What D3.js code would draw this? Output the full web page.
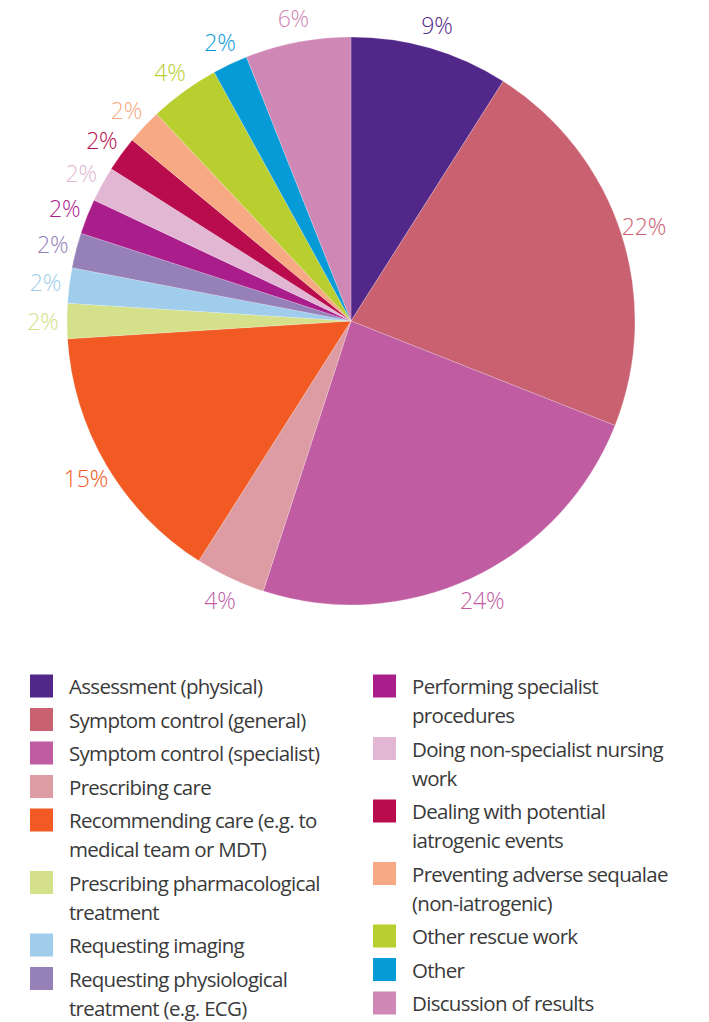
<!DOCTYPE html>
<html>
<head>
<meta charset="utf-8">
<script src="https://cdn.jsdelivr.net/npm/d3@7"></script>
<style>
  html, body { margin: 0; padding: 0; background: #ffffff; }
  svg { display: block; }
</style>
</head>
<body>
<svg id="chart" width="709" height="1022"></svg>
<script>
// Share of activity by category (percent), clockwise from 12 o'clock
const categories = [
  "Assessment (physical)",
  "Symptom control (general)",
  "Symptom control (specialist)",
  "Prescribing care",
  "Recommending care (e.g. to medical team or MDT)",
  "Prescribing pharmacological treatment",
  "Requesting imaging",
  "Requesting physiological treatment (e.g. ECG)",
  "Performing specialist procedures",
  "Doing non-specialist nursing work",
  "Dealing with potential iatrogenic events",
  "Preventing adverse sequalae (non-iatrogenic)",
  "Other rescue work",
  "Other",
  "Discussion of results"
];
const values = [9, 22, 24, 4, 15, 2, 2, 2, 2, 2, 2, 2, 4, 2, 6];
const colors = [
  "#52278a", "#c96170", "#bf5ca2", "#dd9ca4", "#f15a22",
  "#d4e18a", "#9fcdeb", "#9580b8", "#aa1e8c", "#e2b7d4",
  "#b90c4c", "#f6a982", "#b8cf2f", "#069bd7", "#cf87b6"
];
const labelColors = [
  "#52278a", "#c96170", "#bf5ca2", "#c25fa8", "#f15a22",
  "#d4e18a", "#9fcdeb", "#9580b8", "#aa1e8c", "#e2b7d4",
  "#b90c4c", "#f6a982", "#b8cf2f", "#069bd7", "#cf87b6"
];
// Legend text, wrapped as printed; two columns
const legendLines = [
  ["Assessment (physical)"],
  ["Symptom control (general)"],
  ["Symptom control (specialist)"],
  ["Prescribing care"],
  ["Recommending care (e.g. to", "medical team or MDT)"],
  ["Prescribing pharmacological", "treatment"],
  ["Requesting imaging"],
  ["Requesting physiological", "treatment (e.g. ECG)"],
  ["Performing specialist", "procedures"],
  ["Doing non-specialist nursing", "work"],
  ["Dealing with potential", "iatrogenic events"],
  ["Preventing adverse sequalae", "(non-iatrogenic)"],
  ["Other rescue work"],
  ["Other"],
  ["Discussion of results"]
];
const legendColumns = [[0, 1, 2, 3, 4, 5, 6, 7], [8, 9, 10, 11, 12, 13, 14]];

const svg = d3.select("#chart");
const font = "'Open Sans', 'Noto Sans', sans-serif";

const cx = 351, cy = 321, radius = 284, labelRadius = 308;

const data = values.map((v, i) => ({ name: categories[i], value: v, i }));
const pie = d3.pie().value(d => d.value).sort(null);
const arcs = pie(data);
const arc = d3.arc().innerRadius(0).outerRadius(radius);
const labelArc = d3.arc().innerRadius(labelRadius).outerRadius(labelRadius);

const g = svg.append("g").attr("transform", `translate(${cx},${cy})`);

g.selectAll("path.slice")
  .data(arcs)
  .join("path")
  .attr("class", "slice")
  .attr("d", arc)
  .attr("fill", d => colors[d.data.i])
  .attr("stroke", "#ffffff")
  .attr("stroke-opacity", 0.35)
  .attr("stroke-width", 0.6);

g.selectAll("text.pct")
  .data(arcs)
  .join("text")
  .attr("class", "pct")
  .attr("transform", d => `translate(${labelArc.centroid(d)})`)
  .attr("text-anchor", "middle")
  .attr("dominant-baseline", "central")
  .attr("font-family", font)
  .attr("font-weight", 300)
  .attr("font-size", 23)
  .attr("letter-spacing", -0.2)
  .attr("fill", d => labelColors[d.data.i])
  .text(d => d.data.value + "%");

// Legend
const colX = [30, 373];
const firstY = 686, itemStep = 33.5, lineStep = 29, sw = 23;

legendColumns.forEach((idxs, c) => {
  let extra = 0;
  idxs.forEach((idx, k) => {
    const y0 = firstY + k * itemStep + extra * lineStep;
    const item = svg.append("g");
    item.append("rect")
      .attr("x", colX[c])
      .attr("y", y0 - sw / 2)
      .attr("width", sw)
      .attr("height", sw)
      .attr("fill", colors[idx]);
    legendLines[idx].forEach((line, j) => {
      item.append("text")
        .attr("x", colX[c] + 39)
        .attr("y", y0 + j * lineStep)
        .attr("dominant-baseline", "central")
        .attr("font-family", font)
        .attr("font-size", 20.5)
        .attr("letter-spacing", -0.7)
        .attr("fill", "#3a3a3a")
        .text(line);
    });
    extra += legendLines[idx].length - 1;
  });
});
</script>
</body>
</html>
